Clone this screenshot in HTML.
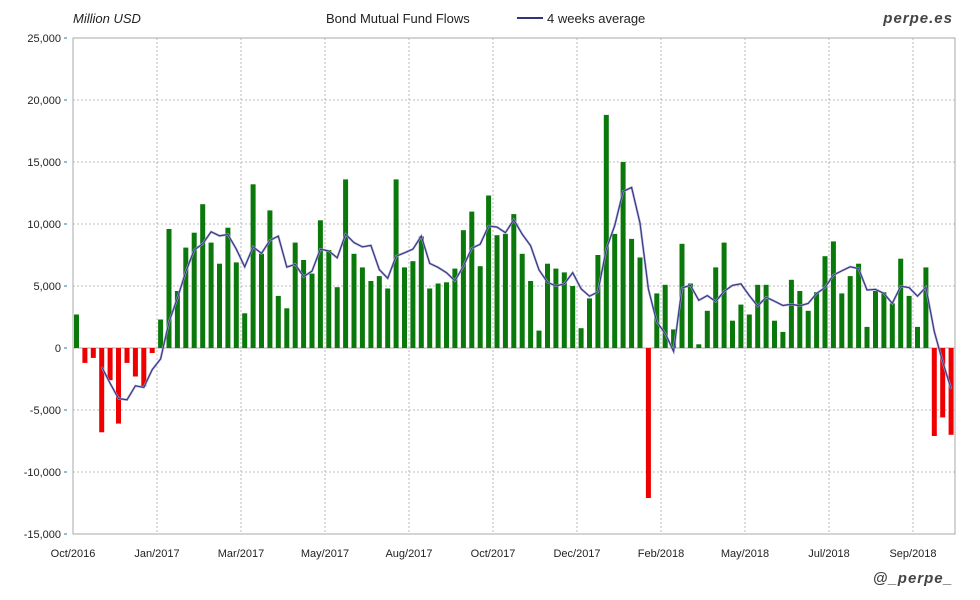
<!DOCTYPE html>
<html><head><meta charset="utf-8"><style>
html,body{margin:0;padding:0;background:#fff;}
svg{display:block;font-family:"Liberation Sans",sans-serif;}
</style></head><body>
<svg id="c" width="980" height="600" xmlns="http://www.w3.org/2000/svg"></svg>
<script>
var v=[2700,-1200,-800,-6800,-2600,-6100,-1200,-2300,-3100,-400,2300,9600,4600,8100,9300,11600,8500,6800,9700,6900,2800,13200,7600,11100,4200,3200,8500,7100,6000,10300,7900,4900,13600,7600,6500,5400,5800,4800,13600,6500,7000,9000,4800,5200,5300,6400,9500,11000,6600,12300,9100,9200,10800,7600,5400,1400,6800,6400,6100,5000,1600,4000,7500,18800,9200,15000,8800,7300,-12100,4400,5100,1500,8400,5200,300,3000,6500,8500,2200,3500,2700,5100,5100,2200,1300,5500,4600,3000,4500,7400,8600,4400,5800,6800,1700,4600,4500,3600,7200,4200,1700,6500,-7100,-5600,-7000];
var L=73,R=955,T=38,B=534;
function y(val){return 348-val*0.0124;}
var s='';
for(var k=-15000;k<=25000;k+=5000){var yy=y(k);
 s+='<line x1="'+L+'" x2="'+R+'" y1="'+yy+'" y2="'+yy+'" stroke="#bbb" stroke-dasharray="2,2"/>';
 s+='<text x="61" y="'+(yy+4)+'" font-size="11" text-anchor="end" fill="#222">'+(k<0?'-':'')+Math.abs(k).toLocaleString('en-US')+'</text>';
 s+='<rect x="64" y="'+(yy-1)+'" width="3" height="2" fill="#9bc"/>';}
var labs=['Oct/2016','Jan/2017','Mar/2017','May/2017','Aug/2017','Oct/2017','Dec/2017','Feb/2018','May/2018','Jul/2018','Sep/2018'];
for(var i=0;i<labs.length;i++){var xx=73+84*i;
 if(i>0)s+='<line x1="'+xx+'" x2="'+xx+'" y1="'+T+'" y2="'+B+'" stroke="#bbb" stroke-dasharray="2,2"/>';
 s+='<text x="'+xx+'" y="557" font-size="11" text-anchor="middle" fill="#222">'+labs[i]+'</text>';}
s+='<rect x="'+L+'" y="'+T+'" width="'+(R-L)+'" height="'+(B-T)+'" fill="none" stroke="#aaa"/>';
s+='<line x1="'+L+'" x2="'+R+'" y1="348" y2="348" stroke="#aaa"/>';
for(var i=0;i<v.length;i++){var x=76.5+8.41*i-2.5;var a=y(Math.max(v[i],0)),b=y(Math.min(v[i],0));
 s+='<rect x="'+x.toFixed(1)+'" y="'+a.toFixed(1)+'" width="5" height="'+(b-a).toFixed(1)+'" fill="'+(v[i]<0?'#ee0000':'#0a780a')+'"/>';}
var p='';
for(var i=3;i<v.length;i++){var m=(v[i]+v[i-1]+v[i-2]+v[i-3])/4;p+=(i==3?'M':'L')+(76.5+8.41*i).toFixed(1)+','+y(m).toFixed(1);}
s+='<path d="'+p+'" fill="none" stroke="#a0a0d8" stroke-width="2.2"/><path d="'+p+'" fill="none" stroke="#333377" stroke-width="1"/>';
s+='<text x="73" y="23" font-size="13" font-style="italic" fill="#222">Million USD</text>';
s+='<text x="326" y="23" font-size="13" fill="#222">Bond Mutual Fund Flows</text>';
s+='<line x1="517" x2="543" y1="18" y2="18" stroke="#333377" stroke-width="2"/>';
s+='<text x="547" y="23" font-size="13" fill="#222">4 weeks average</text>';
s+='<text x="953" y="23" font-size="15" font-style="italic" font-weight="bold" text-anchor="end" fill="#444" letter-spacing="1">perpe.es</text>';
s+='<text x="953" y="583" font-size="15" font-style="italic" font-weight="bold" text-anchor="end" fill="#444" letter-spacing="1">@_perpe_</text>';
document.getElementById('c').innerHTML=s;
</script>
</body></html>
